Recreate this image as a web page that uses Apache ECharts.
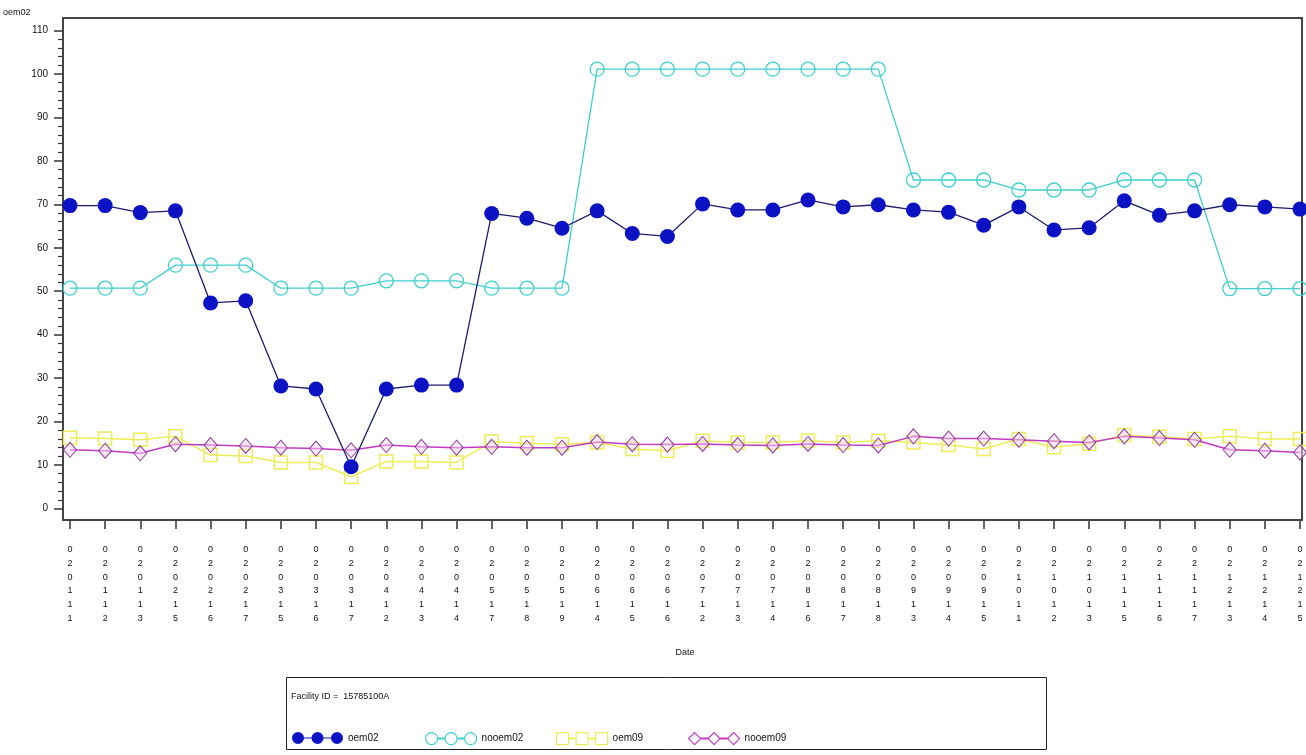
<!DOCTYPE html>
<html>
<head>
<meta charset="utf-8">
<script src="https://cdn.jsdelivr.net/npm/echarts@6/dist/echarts.min.js"></script>
<style>
html,body{margin:0;padding:0;background:#fff;}
#chart{width:1306px;height:755px;}
</style>
</head>
<body>
<div id="chart"></div>
<script>
// ---- data ----
const dates = ["020111","020112","020113","020215","020216","020217","020315","020316","020317",
  "020412","020413","020414","020517","020518","020519","020614","020615","020616",
  "020712","020713","020714","020816","020817","020818","020913","020914","020915",
  "021011","021012","021013","021115","021116","021117","021213","021214","021215"];
const oem02 = [69.7,69.7,68.1,68.5,47.3,47.8,28.2,27.5,9.6,27.5,28.4,28.4,
  67.9,66.8,64.5,68.5,63.3,62.6,70.1,68.7,68.7,71.0,69.4,69.9,68.7,68.2,65.2,
  69.4,64.1,64.6,70.8,67.5,68.5,69.9,69.4,68.9];
const nooem02 = [50.7,50.7,50.7,56.0,56.0,56.0,50.7,50.7,50.7,52.4,52.4,52.4,
  50.7,50.7,50.7,101.1,101.1,101.1,101.1,101.1,101.1,101.1,101.1,101.1,
  75.6,75.6,75.6,73.3,73.3,73.3,75.6,75.6,75.6,50.6,50.6,50.6];
const oem09 = [16.3,16.1,15.8,16.6,12.3,12.1,10.6,10.6,7.3,10.8,10.8,10.6,
  15.4,15.0,14.8,15.2,13.7,13.3,15.6,15.2,15.2,15.6,15.2,15.6,15.2,14.6,13.7,
  16.0,14.1,14.9,16.9,16.5,16.0,16.6,16.0,16.0];
const nooem09 = [13.5,13.3,12.7,14.8,14.6,14.4,14.0,13.8,13.4,14.6,14.2,14.0,
  14.2,14.0,14.0,15.3,14.8,14.7,14.85,14.6,14.5,14.85,14.6,14.5,16.6,16.1,16.1,
  15.8,15.5,15.2,16.6,16.2,15.8,13.5,13.3,12.9];
const yTicks = {min:0, max:110, interval:10};
const facilityText = "Facility ID =  15785100A";

// ---- styles ----
const C_BLUE = '#0a12c4', C_NAVY = '#1b1b70';
const C_CYAN = '#3fcfcf';
const C_YEL = '#eded5a';
const C_MAG = '#c23ac2', C_MAG_B = '#8e3a9a';
const FONT = '"Liberation Sans", Arial, sans-serif';

const circ = (cx) => `M${cx-6},6a6,6 0 1,0 12,0a6,6 0 1,0 -12,0Z`;
const seg = (x) => `M${x},5.6h7.5v0.8h-7.5Z`;
const sq = (cx) => `M${cx-6},0h12v12h-12Z`;
const dia = (cx) => `M${cx},0L${cx+6},6L${cx},12L${cx-6},6Z`;
const iconOf = (f) => 'path://' + f(6) + seg(12) + f(25.5) + seg(31.5) + f(45);

function legendAt(name, left, icon, itemStyle) {
  return {
    left: left, top: 727, itemWidth: 51, itemHeight: 12, itemGap: 0, itemTextGap: 14,
    textStyle: {fontFamily: FONT, fontSize: 10, color: '#111'},
    selectedMode: false,
    data: [{name: name, icon: icon, itemStyle: itemStyle}]
  };
}

const chart = echarts.init(document.getElementById('chart'), null, {renderer: 'canvas'});
chart.setOption({
  backgroundColor: '#fff',
  animation: false,
  grid: {left: 70, right: 6, top: 30.5, bottom: 246.5, containLabel: false},
  xAxis: {
    type: 'category', data: dates, boundaryGap: false, offset: 11.5,
    name: 'Date', nameLocation: 'middle', nameGap: 128,
    nameTextStyle: {fontFamily: FONT, fontSize: 9, color: '#111'},
    axisLine: {show: false, onZero: false},
    axisTick: {show: true, alignWithLabel: true, length: 9, inside: false, interval: 0,
      lineStyle: {color: '#333', width: 1.5}},
    axisLabel: {interval: 0, margin: 23, fontFamily: FONT, fontSize: 9, color: '#111',
      lineHeight: 13.7, formatter: (v) => v.split('').join('\n')},
    splitLine: {show: false}
  },
  yAxis: {
    type: 'value', min: yTicks.min, max: yTicks.max, interval: yTicks.interval, offset: 7,
    axisLine: {show: false, onZero: false},
    axisTick: {show: true, length: 9, lineStyle: {color: '#333', width: 1.5}},
    minorTick: {show: true, splitNumber: 5, length: 5, lineStyle: {color: '#333', width: 1.2}},
    axisLabel: {margin: 15, fontFamily: FONT, fontSize: 10, color: '#111'},
    splitLine: {show: false}, minorSplitLine: {show: false}
  },
  graphic: [
    {type: 'rect', z: 1, silent: true, shape: {x: 63, y: 18, width: 1239, height: 502},
     style: {fill: 'none', stroke: '#444', lineWidth: 2}},
    {type: 'text', left: 3, top: 8, silent: true,
     style: {text: 'oem02', font: '9px ' + FONT, fill: '#111'}},
    {type: 'rect', silent: true, shape: {x: 286.5, y: 677.5, width: 760, height: 72},
     style: {fill: 'none', stroke: '#222', lineWidth: 1}},
    {type: 'text', left: 291, top: 692, silent: true,
     style: {text: facilityText, font: '9px ' + FONT, fill: '#111'}}
  ],
  legend: [
    legendAt('oem02', 287, iconOf(circ), {color: C_BLUE, borderColor: C_BLUE, borderWidth: 0}),
    legendAt('nooem02', 420, iconOf(circ), {color: 'rgba(255,255,255,0)', borderColor: C_CYAN, borderWidth: 1.2}),
    legendAt('oem09', 551, iconOf(sq), {color: 'rgba(255,255,255,0)', borderColor: C_YEL, borderWidth: 1.2}),
    legendAt('nooem09', 683, iconOf(dia), {color: 'rgba(255,255,255,0)', borderColor: C_MAG, borderWidth: 1.2})
  ],
  series: [
    {name: 'oem09', type: 'line', data: oem09, z: 2,
     symbol: 'rect', symbolSize: 13, showAllSymbol: true,
     lineStyle: {color: C_YEL, width: 1.5},
     itemStyle: {color: 'rgba(255,255,255,0)', borderColor: C_YEL, borderWidth: 1.5}},
    {name: 'nooem02', type: 'line', data: nooem02, z: 3,
     symbol: 'circle', symbolSize: 14, showAllSymbol: true,
     lineStyle: {color: C_CYAN, width: 1.3},
     itemStyle: {color: 'rgba(255,255,255,0)', borderColor: C_CYAN, borderWidth: 1.3}},
    {name: 'nooem09', type: 'line', data: nooem09, z: 4,
     symbol: 'diamond', symbolSize: [13, 15], showAllSymbol: true,
     lineStyle: {color: C_MAG, width: 1.5},
     itemStyle: {color: 'rgba(246,214,246,0.5)', borderColor: C_MAG_B, borderWidth: 1}},
    {name: 'oem02', type: 'line', data: oem02, z: 5,
     symbol: 'circle', symbolSize: 15, showAllSymbol: true,
     lineStyle: {color: C_NAVY, width: 1.3},
     itemStyle: {color: C_BLUE, borderColor: C_BLUE, borderWidth: 0}}
  ]
});
</script>
</body>
</html>
